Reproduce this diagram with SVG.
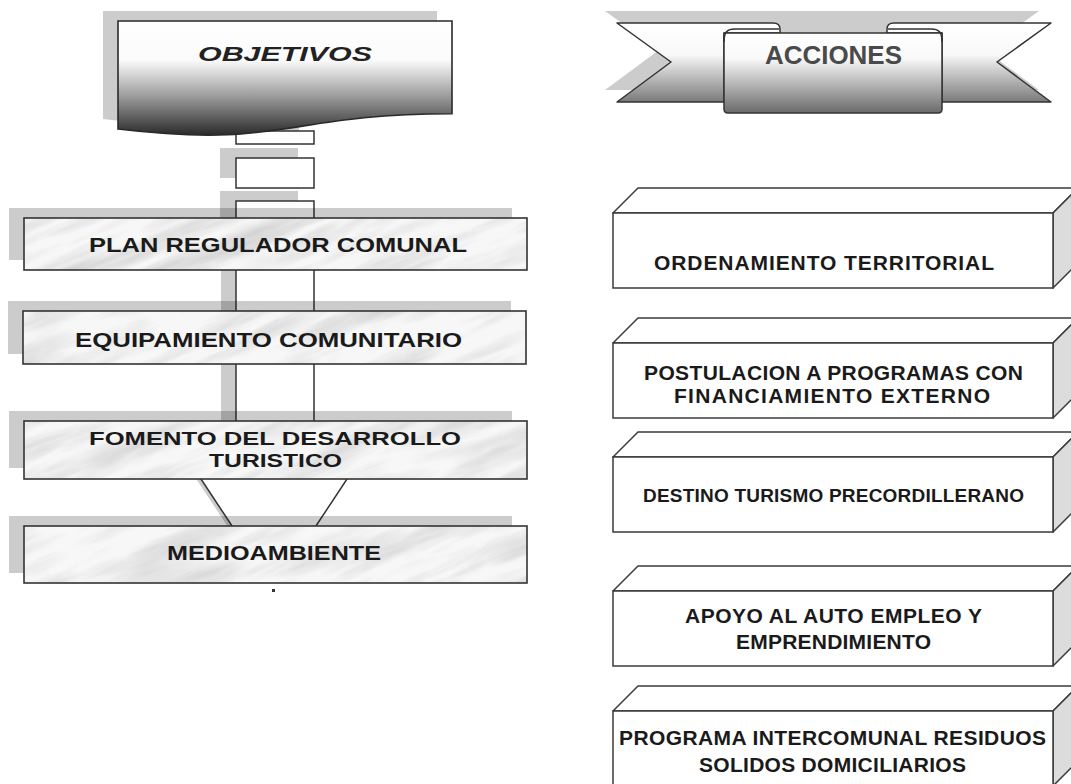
<svg xmlns="http://www.w3.org/2000/svg" width="1071" height="784" viewBox="0 0 1071 784">
<defs>
  <linearGradient id="docGrad" gradientUnits="userSpaceOnUse" x1="0" y1="21" x2="0" y2="136">
    <stop offset="0" stop-color="#ffffff"/>
    <stop offset="0.34" stop-color="#fbfbfb"/>
    <stop offset="0.66" stop-color="#9a9a9a"/>
    <stop offset="1" stop-color="#282828"/>
  </linearGradient>
  <linearGradient id="tailGrad" gradientUnits="userSpaceOnUse" x1="0" y1="23" x2="0" y2="102">
    <stop offset="0" stop-color="#ffffff"/>
    <stop offset="0.4" stop-color="#f8f8f8"/>
    <stop offset="1" stop-color="#7a7a7a"/>
  </linearGradient>
  <linearGradient id="panelGrad" gradientUnits="userSpaceOnUse" x1="0" y1="33" x2="0" y2="113">
    <stop offset="0" stop-color="#ffffff"/>
    <stop offset="0.32" stop-color="#f9f9f9"/>
    <stop offset="1" stop-color="#6a6a6a"/>
  </linearGradient>
  <filter id="marble" x="0" y="0" width="1" height="1" color-interpolation-filters="sRGB">
    <feTurbulence type="turbulence" baseFrequency="0.006 0.035" numOctaves="4" seed="11" result="t"/>
    <feColorMatrix in="t" type="matrix" values="0 0 0 0 0.62  0 0 0 0 0.62  0 0 0 0 0.62  0.6 0 0 0 -0.1" result="s"/>
    <feFlood flood-color="#f7f7f7" result="w"/>
    <feComposite in="s" in2="w" operator="over" result="m"/>
    <feComposite in="m" in2="SourceGraphic" operator="in"/>
  </filter>
  <pattern id="marblePat" patternUnits="userSpaceOnUse" x="-300" y="-300" width="1400" height="1400" patternTransform="rotate(-22)">
    <rect x="0" y="0" width="1400" height="1400" fill="#ffffff" filter="url(#marble)"/>
  </pattern>
  <style>
    .shadow { fill: #000000; fill-opacity: 0.2; }
    .shadowSolid { fill: #cccccc; }
    .conn { fill: #ffffff; stroke: #333333; stroke-width: 1.5; }
    .body { fill: url(#marblePat); }
    .frame { fill: none; stroke: #333333; stroke-width: 1.6; }
    .ltxt { font-family: "Liberation Sans", Arial, sans-serif; font-weight: bold; font-size: 20px; fill: #1a1a1a; text-anchor: middle; }
    .ltxt2 { font-family: "Liberation Sans", Arial, sans-serif; font-weight: bold; font-size: 17.5px; fill: #1a1a1a; text-anchor: middle; }
    .rtxt { font-family: "Liberation Sans", Arial, sans-serif; font-weight: bold; font-size: 21px; fill: #1a1a1a; text-anchor: middle; }
    .front { fill: #ffffff; stroke: #3a3a3a; stroke-width: 1.5; }
    .top { fill: #ffffff; stroke: #3a3a3a; stroke-width: 1.5; stroke-linejoin: round; }
    .side { fill: #dcdcdc; stroke: #3a3a3a; stroke-width: 1.5; stroke-linejoin: round; }
    .rib { stroke: #333333; stroke-width: 1.5; stroke-linejoin: round; }
  </style>
</defs>
<rect width="1071" height="784" fill="#ffffff"/>

<!-- connectors -->
<g id="connectors">
  <rect class="shadowSolid" x="221" y="121" width="78" height="13"/>
  <rect class="conn" x="236" y="131" width="78" height="13"/>
  <rect class="shadowSolid" x="220" y="148" width="78" height="30"/>
  <rect class="conn" x="236" y="158" width="78" height="30"/>
  <rect class="shadowSolid" x="220" y="191" width="78" height="30"/>
  <rect class="conn" x="236" y="201" width="78" height="30"/>
  <rect class="shadowSolid" x="221" y="255" width="78" height="60"/>
  <rect class="conn" x="236" y="265" width="78" height="55"/>
  <rect class="shadowSolid" x="221" y="350" width="78" height="70"/>
  <rect class="conn" x="236" y="358" width="78" height="68"/>
  <polygon class="shadowSolid" points="185,462 343,462 300,527 228,527"/>
  <polygon class="conn" points="195,470 353,470 310,535 238,535"/>
</g>

<!-- OBJETIVOS header -->
<g id="objetivos">
  <path class="shadowSolid" d="M103,11 H437 V103.7 C270,103.7 270,139 103,119 Z"/>
  <path d="M118,21 H452 V113.7 C285,113.7 285,149 118,129 Z" fill="url(#docGrad)" stroke="#2a2a2a" stroke-width="1.6"/>
  <text x="285" y="61" font-family="'Liberation Sans', Arial, sans-serif" font-weight="bold" font-style="italic" font-size="19.5" fill="#222222" text-anchor="middle" textLength="174" lengthAdjust="spacingAndGlyphs">OBJETIVOS</text>
</g>

<!-- left boxes -->
<g id="plan">
  <rect class="shadow" x="9" y="208" width="503" height="52"/>
  <rect class="body" x="24" y="218" width="503" height="52"/>
  <rect class="frame" x="24" y="218" width="503" height="52"/>
  <text class="ltxt" x="278" y="252" textLength="378" lengthAdjust="spacingAndGlyphs">PLAN REGULADOR  COMUNAL</text>
</g>
<g id="equipamiento">
  <rect class="shadow" x="8" y="301" width="503" height="53"/>
  <rect class="body" x="23" y="311" width="503" height="53"/>
  <rect class="frame" x="23" y="311" width="503" height="53"/>
  <text class="ltxt" x="268.5" y="347" textLength="387" lengthAdjust="spacingAndGlyphs">EQUIPAMIENTO COMUNITARIO</text>
</g>
<g id="fomento">
  <rect class="shadow" x="9" y="411" width="503" height="57"/>
  <rect class="body" x="24" y="421" width="503" height="58"/>
  <rect class="frame" x="24" y="421" width="503" height="58"/>
  <text class="ltxt2" x="275" y="445" textLength="372" lengthAdjust="spacingAndGlyphs">FOMENTO DEL DESARROLLO</text>
  <text class="ltxt2" x="275.5" y="467" textLength="133" lengthAdjust="spacingAndGlyphs">TURISTICO</text>
</g>
<g id="medioambiente">
  <rect class="shadow" x="9" y="516" width="503" height="57"/>
  <rect class="body" x="24" y="526" width="503" height="57"/>
  <rect class="frame" x="24" y="526" width="503" height="57"/>
  <text class="ltxt" x="274" y="560" textLength="214" lengthAdjust="spacingAndGlyphs">MEDIOAMBIENTE</text>
  <rect x="272" y="589" width="3" height="3" fill="#333333"/>
</g>

<!-- ACCIONES banner -->
<g id="acciones">
  <g transform="translate(-12,-12)">
    <path class="shadowSolid" d="M617,23 L1051,23 L997,62 L1051,102 L942,102 L942,113 L724,113 L724,102 L617,102 L671,62 Z"/>
  </g>
  <path class="rib" fill="url(#tailGrad)" d="M617,23 L773,23 Q780,23 780,29 L780,33 L724,33 L724,102 L617,102 L671,62 Z"/>
  <path class="rib" fill="url(#tailGrad)" d="M1051,23 L894,23 Q887,23 887,29 L887,33 L942,33 L942,102 L1051,102 L997,62 Z"/>
  <path class="rib" fill="url(#panelGrad)" d="M724,33 L942,33 L942,109 Q942,113 938,113 L728,113 Q724,113 724,109 Z"/>
  <path class="rib" fill="none" d="M724,42 C724,32 727,29 735,29 L779,29"/>
  <path class="rib" fill="none" d="M942,42 C942,32 939,29 931,29 L888,29"/>
  <text x="833.5" y="64" font-family="'Liberation Sans', Arial, sans-serif" font-weight="bold" font-size="26" fill="#4a4a4a" text-anchor="middle" textLength="137" lengthAdjust="spacingAndGlyphs">ACCIONES</text>
</g>

<!-- right 3D boxes -->
<g id="ordenamiento">
  <polygon class="top" points="613,213 638,188 1078,188 1053,213"/>
  <polygon class="side" points="1053,213 1078,188 1078,263 1053,288"/>
  <rect class="front" x="613" y="213" width="440" height="75"/>
  <text class="rtxt" x="824" y="270" textLength="340" lengthAdjust="spacing">ORDENAMIENTO TERRITORIAL</text>
</g>
<g id="postulacion">
  <polygon class="top" points="613,343 638,318 1078,318 1053,343"/>
  <polygon class="side" points="1053,343 1078,318 1078,393 1053,418"/>
  <rect class="front" x="613" y="343" width="440" height="75"/>
  <text class="rtxt" x="833.5" y="380" textLength="379" lengthAdjust="spacing">POSTULACION A PROGRAMAS CON</text>
  <text class="rtxt" x="832" y="403" textLength="316" lengthAdjust="spacing">FINANCIAMIENTO EXTERNO</text>
</g>
<g id="destino">
  <polygon class="top" points="613,457 638,432 1078,432 1053,457"/>
  <polygon class="side" points="1053,457 1078,432 1078,507 1053,532"/>
  <rect class="front" x="613" y="457" width="440" height="75"/>
  <text class="rtxt" x="833.5" y="502" style="font-size:19px" textLength="381" lengthAdjust="spacing">DESTINO TURISMO PRECORDILLERANO</text>
</g>
<g id="apoyo">
  <polygon class="top" points="613,591 638,566 1078,566 1053,591"/>
  <polygon class="side" points="1053,591 1078,566 1078,641 1053,666"/>
  <rect class="front" x="613" y="591" width="440" height="75"/>
  <text class="rtxt" x="833.5" y="623" textLength="297" lengthAdjust="spacing">APOYO AL AUTO EMPLEO Y</text>
  <text class="rtxt" x="833.5" y="649" textLength="195" lengthAdjust="spacing">EMPRENDIMIENTO</text>
</g>
<g id="residuos">
  <polygon class="top" points="613,711 638,686 1078,686 1053,711"/>
  <polygon class="side" points="1053,711 1078,686 1078,761 1053,786"/>
  <rect class="front" x="613" y="711" width="440" height="75"/>
  <text class="rtxt" x="832.5" y="745" textLength="427" lengthAdjust="spacing">PROGRAMA INTERCOMUNAL RESIDUOS</text>
  <text class="rtxt" x="832.5" y="772" textLength="267" lengthAdjust="spacing">SOLIDOS DOMICILIARIOS</text>
</g>
</svg>
